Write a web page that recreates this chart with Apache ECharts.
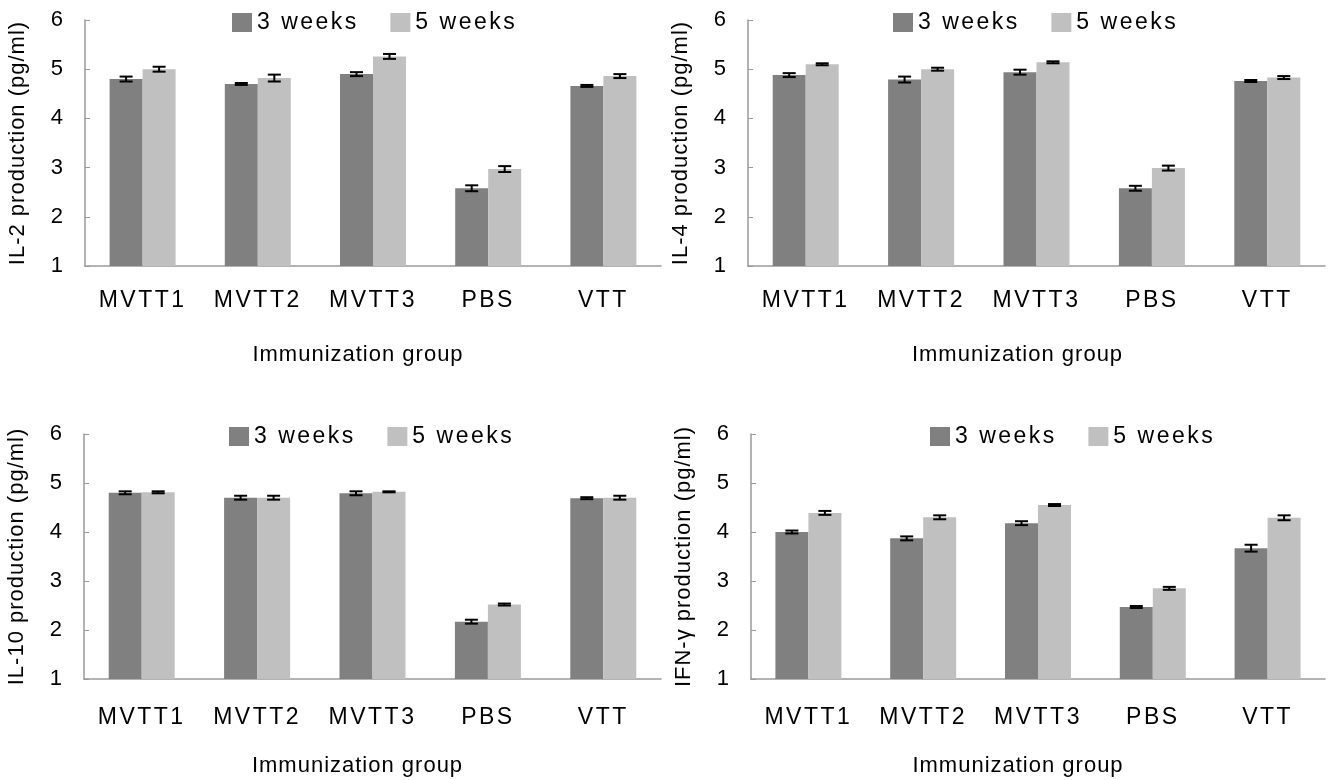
<!DOCTYPE html>
<html>
<head>
<meta charset="utf-8">
<script src="https://cdn.jsdelivr.net/npm/echarts@6/dist/echarts.min.js"></script>
<style>
html,body{margin:0;padding:0;background:#fff;}
#chart{width:1329px;height:780px;}
</style>
</head>
<body>
<div id="chart"></div>
<script>
// ---- data ----
const categories = ['MVTT1', 'MVTT2', 'MVTT3', 'PBS', 'VTT'];
const seriesNames = ['3 weeks', '5 weeks'];
const yTicks = [1, 2, 3, 4, 5, 6];
const panelTitles = ['IL-2 production (pg/ml)', 'IL-4 production (pg/ml)', 'IL-10 production (pg/ml)', 'IFN-γ production (pg/ml)'];
const xTitle = 'Immunization group';

const il2_3w = [4.80, 4.70, 4.90, 2.58, 4.66];
const il2_5w = [5.00, 4.82, 5.26, 2.97, 4.86];
const il2_3w_err = [0.05, 0.02, 0.04, 0.06, 0.02];
const il2_5w_err = [0.05, 0.07, 0.05, 0.06, 0.04];

const il4_3w = [4.88, 4.79, 4.94, 2.58, 4.76];
const il4_5w = [5.10, 5.00, 5.14, 2.99, 4.83];
const il4_3w_err = [0.04, 0.06, 0.05, 0.05, 0.02];
const il4_5w_err = [0.02, 0.03, 0.02, 0.05, 0.03];

const il10_3w = [4.80, 4.70, 4.79, 2.17, 4.69];
const il10_5w = [4.81, 4.70, 4.82, 2.52, 4.70];
const il10_3w_err = [0.03, 0.04, 0.04, 0.04, 0.02];
const il10_5w_err = [0.02, 0.04, 0.01, 0.02, 0.04];

const ifn_3w = [4.00, 3.87, 4.18, 2.47, 3.67];
const ifn_5w = [4.39, 4.30, 4.55, 2.85, 4.29];
const ifn_3w_err = [0.03, 0.04, 0.04, 0.02, 0.07];
const ifn_5w_err = [0.04, 0.04, 0.02, 0.03, 0.05];

// ---- letter spacing for the wide-spaced texts (canvas style only) ----
(function () {
  const proto = CanvasRenderingContext2D.prototype;
  if (!('letterSpacing' in proto)) return;
  const orig = proto.fillText;
  proto.fillText = function (t, x, y, w) {
    let ls = 0;
    if (categories.indexOf(t) >= 0 || seriesNames.indexOf(t) >= 0) ls = 2.5;
    else if (t === xTitle || panelTitles.indexOf(t) >= 0) ls = 1;
    this.letterSpacing = ls + 'px';
    const r = w === undefined ? orig.call(this, t, x, y) : orig.call(this, t, x, y, w);
    this.letterSpacing = '0px';
    return r;
  };
})();

const panels = [
  { v3: il2_3w, v5: il2_5w, e3: il2_3w_err, e5: il2_5w_err },
  { v3: il4_3w, v5: il4_5w, e3: il4_3w_err, e5: il4_5w_err },
  { v3: il10_3w, v5: il10_5w, e3: il10_3w_err, e5: il10_5w_err },
  { v3: ifn_3w, v5: ifn_5w, e3: ifn_3w_err, e5: ifn_5w_err }
];

const FONT = "'Liberation Sans', Arial, sans-serif";
const DARK = '#808080', LIGHT = '#c0c0c0', AXIS = '#9a9a9a';
const BAR_W = 33;

const grids = [
  { left: 85, top: 20, width: 576, height: 246 },
  { left: 748, top: 20, width: 577, height: 246 },
  { left: 84, top: 434, width: 577, height: 245 },
  { left: 751, top: 434, width: 574, height: 245 }
];
const legendPos = [
  { left: 232, top: 11 },
  { left: 893, top: 11 },
  { left: 229, top: 425 },
  { left: 930, top: 425 }
];
const xNameShift = [30, 38, 30, 40];
const xLabelMargin = [23, 23, 27, 27];
const xNameGap = [78, 78, 76, 76];

function errorItem(offset) {
  return function (params, api) {
    const xi = api.value(0), v = api.value(1), e = api.value(2);
    const hi = api.coord([xi, v + e]);
    const lo = api.coord([xi, v - e]);
    const x = hi[0] + offset;
    const cap = 6.5;
    const st = { stroke: '#000', lineWidth: 2 };
    return {
      type: 'group',
      children: [
        { type: 'line', shape: { x1: x, y1: hi[1], x2: x, y2: lo[1] }, style: st },
        { type: 'line', shape: { x1: x - cap, y1: hi[1], x2: x + cap, y2: hi[1] }, style: st },
        { type: 'line', shape: { x1: x - cap, y1: lo[1], x2: x + cap, y2: lo[1] }, style: st }
      ]
    };
  };
}

const option = {
  backgroundColor: '#fff',
  animation: false,
  textStyle: { fontFamily: FONT },
  grid: grids,
  legend: legendPos.map((p, i) => ({
    left: p.left, top: p.top, padding: 0,
    itemWidth: 20, itemHeight: 19, itemGap: 49,
    icon: 'rect',
    data: seriesNames.map(n => n + '\u200b'.repeat(i)),
    formatter: n => n.replace(/\u200b/g, ''),
    textStyle: { fontSize: 23, color: '#000', fontFamily: FONT }
  })),
  xAxis: grids.map((g, i) => ({
    type: 'category', gridIndex: i, data: categories,
    name: xTitle, nameLocation: 'middle', nameGap: xNameGap[i],
    nameTextStyle: { fontSize: 22, color: '#000', fontFamily: FONT, padding: [0, xNameShift[i], 0, 0] },
    axisLine: { lineStyle: { color: AXIS, width: 1.5 } },
    axisTick: { inside: true, length: 5, lineStyle: { color: AXIS } },
    axisLabel: { fontSize: 23, color: '#000', margin: xLabelMargin[i], fontFamily: FONT, interval: 0 }
  })),
  yAxis: grids.map((g, i) => ({
    type: 'value', gridIndex: i, min: yTicks[0], max: yTicks[yTicks.length - 1], interval: 1,
    name: panelTitles[i], nameLocation: 'middle', nameGap: 56,
    nameTextStyle: { fontSize: 22, color: '#000', fontFamily: FONT },
    axisLine: { show: true, lineStyle: { color: AXIS, width: 1.5 } },
    axisTick: { show: true, inside: true, length: 5, lineStyle: { color: AXIS } },
    splitLine: { show: false },
    axisLabel: { fontSize: 22, color: '#000', margin: 22, fontFamily: FONT }
  })),
  series: []
};

panels.forEach((p, i) => {
  const suffix = '\u200b'.repeat(i);
  option.series.push({
    type: 'bar', name: seriesNames[0] + suffix, xAxisIndex: i, yAxisIndex: i,
    data: p.v3, barWidth: BAR_W, barGap: '0%', itemStyle: { color: DARK }
  });
  option.series.push({
    type: 'bar', name: seriesNames[1] + suffix, xAxisIndex: i, yAxisIndex: i,
    data: p.v5, barWidth: BAR_W, barGap: '0%', itemStyle: { color: LIGHT }
  });
  option.series.push({
    type: 'custom', xAxisIndex: i, yAxisIndex: i, z: 5, silent: true,
    renderItem: errorItem(-BAR_W / 2),
    data: categories.map((c, k) => [k, p.v3[k], p.e3[k]])
  });
  option.series.push({
    type: 'custom', xAxisIndex: i, yAxisIndex: i, z: 5, silent: true,
    renderItem: errorItem(BAR_W / 2),
    data: categories.map((c, k) => [k, p.v5[k], p.e5[k]])
  });
});

const chart = echarts.init(document.getElementById('chart'), null, { renderer: 'canvas' });
chart.setOption(option);
</script>
</body>
</html>
